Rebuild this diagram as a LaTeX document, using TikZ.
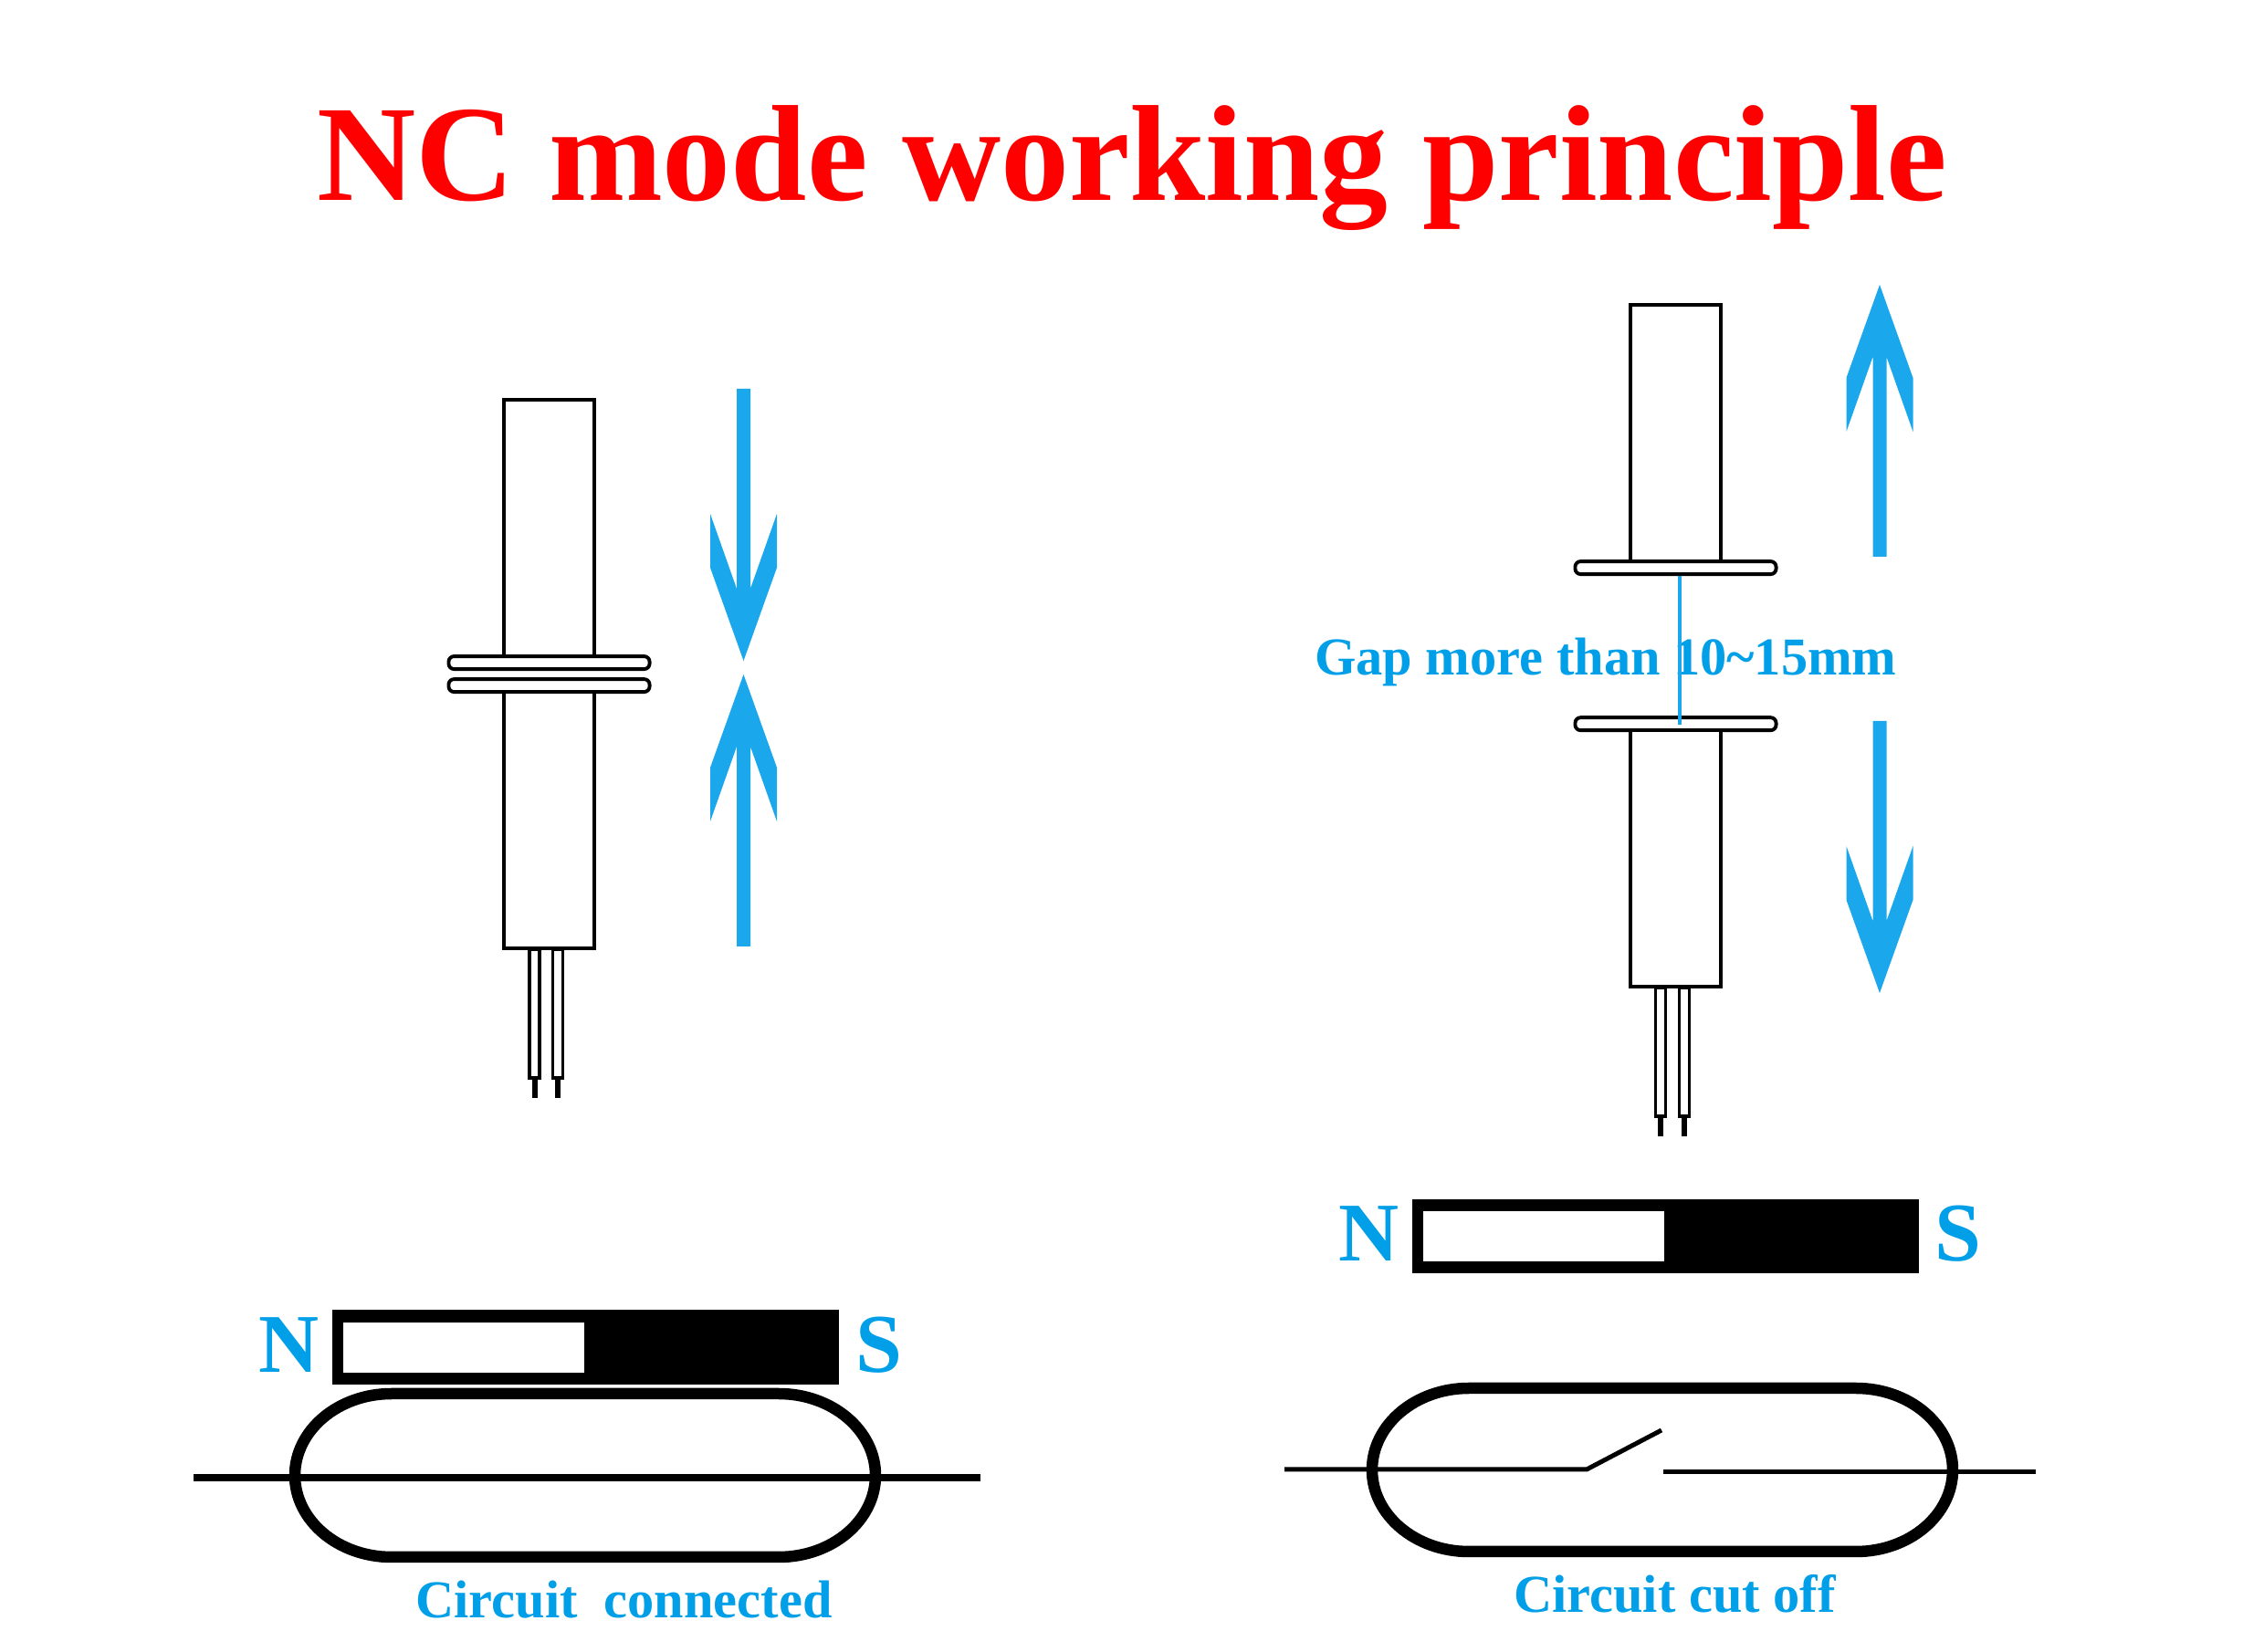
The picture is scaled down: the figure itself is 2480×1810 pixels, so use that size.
\documentclass[tikz,border=0pt]{standalone}
\usepackage{fontspec}
\usepackage{xcolor}
\setmainfont{Liberation Serif}
\usetikzlibrary{positioning}

\definecolor{arrowblue}{HTML}{1AA7EC}
\definecolor{textblue}{HTML}{009FE8}

\begin{document}
\begin{tikzpicture}[
    x=0.01cm, y=-0.01cm,
    body/.style={rectangle, draw=black, fill=white, line width=1.1pt, inner sep=0pt, outer sep=0pt, minimum width=0.995cm, minimum height=2.81cm},
    flange/.style={rectangle, rounded corners=0.06cm, draw=black, fill=white, line width=1.1pt, inner sep=0pt, outer sep=0pt, minimum width=2.2cm, minimum height=0.14cm},
    lead/.style={rectangle, draw=black, line width=1.1pt, inner sep=0pt, outer sep=0pt, minimum width=0.11cm, minimum height=1.41cm},
    pin/.style={line width=0.06cm},
    magnet/.style={rectangle, fill=black, inner sep=0pt, outer sep=0pt, minimum width=5.55cm, minimum height=0.81cm},
    pole/.style={rectangle, fill=white, inner sep=0pt, outer sep=0pt, minimum width=2.64cm, minimum height=0.55cm},
    wire/.style={line width=0.05cm},
    title/.style={anchor=base, inner sep=0pt, text=red, font=\fontsize{42.6}{48}\selectfont\bfseries},
    polelabel/.style={anchor=base, inner sep=0pt, text=textblue, font=\fontsize{26}{30}\selectfont\bfseries},
    caption/.style={anchor=base, inner sep=0pt, text=textblue, font=\fontsize{16.6}{20}\selectfont\bfseries},
    blockarrow/.pic={
        \fill[arrowblue] (0,0) -- (36.5,-102) -- (36.5,-161) -- (7.5,-79) -- (7.5,-298) -- (-7.5,-298)
            -- (-7.5,-79) -- (-36.5,-161) -- (-36.5,-102) -- cycle;
    },
    reedtube/.pic={
        \draw[line width=0.125cm] (0,0) arc[start angle=270, end angle=90, x radius=106, y radius=89.5]
            -- (424,179) arc[start angle=90, end angle=-90, x radius=106, y radius=89.5] -- cycle;
    }
]
\useasboundingbox (0,0) rectangle (2480,1810);

\node[title] (heading) at (1240,220) {NC mode working principle};

% left sensor
\node[lead, anchor=north] (leftleada) at (585.5,1040) {};
\node[lead, anchor=north] (leftleadb) at (611,1040) {};
\node[body] (lefttop) at (601.5,578.5) {};
\node[flange, below=0pt of lefttop] (leftflangea) {};
\node[flange, below=0.11cm of leftflangea] (leftflangeb) {};
\node[body, below=0pt of leftflangeb] (leftbottom) {};
\coordinate (leftpina) at (585.5,1203);
\coordinate (leftpinb) at (611,1203);
\draw[pin] (leftleada.south) -- (leftpina);
\draw[pin] (leftleadb.south) -- (leftpinb);
\pic at (814.5,724) {blockarrow};
\pic[yscale=-1] at (814.5,739) {blockarrow};

% right sensor
\node[lead, anchor=north] (rightleada) at (1819,1082) {};
\node[lead, anchor=north] (rightleadb) at (1845,1082) {};
\node[body] (righttop) at (1835.5,474.5) {};
\node[flange, below=0pt of righttop] (rightflangea) {};
\node[flange, below=1.57cm of rightflangea] (rightflangeb) {};
\node[body, below=0pt of rightflangeb] (rightbottom) {};
\coordinate (rightpina) at (1819,1245);
\coordinate (rightpinb) at (1845,1245);
\draw[pin] (rightleada.south) -- (rightpina);
\draw[pin] (rightleadb.south) -- (rightpinb);
\pic[yscale=-1] at (2059,312) {blockarrow};
\pic at (2059,1088) {blockarrow};

\node[caption] (gaplabel) at (1759,740) {Gap more than 10\textasciitilde15mm};
\coordinate (gapend) at (1840,794);
\draw[arrowblue, line width=0.035cm] (1840,631) -- (gapend);

% left magnet and reed switch
\node[magnet] (leftmagnet) at (641.5,1476) {};
\node[pole, anchor=west] (leftpole) at (376,1476.5) {};
\node[polelabel] (leftn) at (316.5,1504) {N};
\node[polelabel] (lefts) at (962.5,1504) {S};
\pic at (429,1527) {reedtube};
\coordinate (leftwirea) at (212,1619);
\coordinate (leftwireb) at (1074,1619);
\draw[line width=0.08cm] (leftwirea) -- (leftwireb);
\node[caption] (leftcaption) at (683.5,1773) {Circuit\ \ connected};

% right magnet and reed switch
\node[magnet] (rightmagnet) at (1824.5,1354.5) {};
\node[pole, anchor=west] (rightpole) at (1559,1354.5) {};
\node[polelabel] (rightn) at (1499.5,1382) {N};
\node[polelabel] (rights) at (2145,1382) {S};
\pic at (1609,1521) {reedtube};
\coordinate (rightwirea) at (1407,1610);
\coordinate (rightknee) at (1738,1610);
\coordinate (rightblade) at (1820,1567);
\coordinate (rightwireb) at (1822,1613);
\coordinate (rightwirec) at (2230,1613);
\draw[wire] (rightwirea) -- (rightknee) -- (rightblade);
\draw[wire] (rightwireb) -- (rightwirec);
\node[caption] (rightcaption) at (1834.5,1767) {Circuit cut off};
\end{tikzpicture}
\end{document}
